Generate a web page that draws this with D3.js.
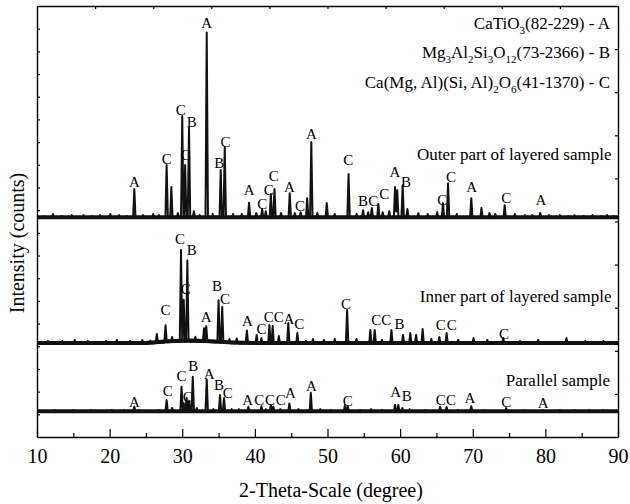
<!DOCTYPE html>
<html>
<head>
<meta charset="utf-8">
<script src="https://cdn.jsdelivr.net/npm/d3@7"></script>
<style>
  body { margin: 0; background: #fff; }
  text { font-family: "Liberation Serif", "Tinos", "Noto Serif", "DejaVu Serif", "FreeSerif", "Nimbus Roman", "Times New Roman", Times, serif; fill: #000; }
</style>
</head>
<body>
<div id="chart"></div>
<script>
// XRD patterns of three samples, stacked with offsets (counts)
const width = 630;
const height = 504;
const margin = {top: 6, left: 37, bottom: 67, right: 12};
const serif = '"Liberation Serif", "Tinos", "Noto Serif", "DejaVu Serif", "FreeSerif", "Nimbus Roman", "Times New Roman", Times, serif';

const xTicks = [10, 20, 30, 40, 50, 60, 70, 80, 90];
const xMinorTicks = [15, 25, 35, 45, 55, 65, 75, 85];
const topTicks = [18, 26, 34, 42, 50, 58, 66, 74, 82];
const leftTicks = d3.range(100, 1900, 100);
const rightTicks = d3.range(190, 1900, 190);

const sampleNames = ['Outer part of layered sample', 'Inner part of layered sample', 'Parallel sample'];
const sampleOffsets = [965, 410, 110];
const sampleNamePos = [[89.1, 1246], [89.1, 622], [88.9, 251]];

// peaks: [2theta, height above baseline]
const outerPeaks = [
  [11.0, 9], [12.2, 18], [13.4, 9], [14.8, 13], [16.4, 13], [17.6, 9], [18.7, 13], [20.1, 18], [21.3, 13],
  [22.4, 9], [23.4, 128], [24.6, 13], [26.0, 18], [26.8, 13], [27.85, 234], [28.5, 137], [29.4, 22],
  [30.0, 450], [30.4, 234], [30.93, 399], [31.6, 30], [32.4, 13], [33.37, 818], [34.2, 18], [35.3, 212],
  [35.85, 313], [37.0, 18], [38.2, 18], [39.2, 68], [40.2, 22], [41.0, 40], [41.5, 30], [42.2, 106],
  [42.7, 128], [43.6, 22], [44.8, 110], [45.5, 22], [46.3, 26], [47.2, 88], [47.77, 336], [48.6, 22],
  [49.9, 66], [51.0, 18], [52.9, 194], [54.0, 18], [54.9, 35], [55.6, 26], [56.1, 44], [57.0, 62],
  [57.6, 26], [58.5, 30], [59.3, 137], [59.6, 123], [60.35, 145], [61.0, 40], [62.5, 22], [63.8, 18],
  [65.1, 26], [65.9, 66], [66.6, 154], [67.8, 18], [69.8, 88], [71.2, 44], [72.3, 22], [73.1, 18],
  [74.4, 57], [75.8, 18], [77.2, 13], [78.2, 13], [79.3, 22], [80.5, 13], [82.0, 13], [83.2, 9],
  [84.0, 13], [85.3, 9], [86.5, 13], [87.6, 9], [88.5, 13], [89.4, 9]
];
const innerPeaks = [
  [11.5, 13], [12.6, 9], [13.5, 13], [15.2, 18], [16.1, 9], [17.0, 13], [18.3, 9], [19.5, 13], [21.0, 18],
  [22.8, 13], [24.5, 18], [25.6, 13], [26.5, 40], [27.7, 75], [28.6, 22], [29.83, 405], [30.2, 185],
  [30.7, 357], [31.8, 22], [33.0, 60], [33.3, 70], [35.0, 186], [35.5, 158], [36.5, 18], [37.5, 22],
  [38.9, 58], [40.25, 40], [40.9, 26], [42.0, 84], [42.45, 79], [43.3, 35], [44.6, 93], [45.85, 48],
  [47.0, 13], [48.0, 22], [49.5, 18], [51.0, 22], [52.7, 150], [54.0, 22], [55.9, 62], [56.5, 62],
  [57.5, 18], [58.8, 62], [60.4, 40], [61.4, 48], [62.2, 40], [63.1, 66], [64.3, 22], [65.4, 31],
  [66.4, 48], [68.0, 18], [70.1, 26], [72.0, 18], [74.2, 26], [76.5, 13], [79.0, 18], [81.0, 9],
  [82.9, 26], [85.5, 13], [88.0, 13]
];
const innerHump = [[10, 0], [25, 0], [28, 8], [31, 11], [34, 8], [37, 3], [40, 0], [90, 0]];
const parallelPeaks = [
  [12.5, 9], [15.0, 9], [17.5, 9], [20.3, 9], [22.0, 9], [23.4, 23], [24.1, 9], [26.8, 9], [27.85, 53],
  [28.6, 18], [29.9, 112], [30.2, 40], [30.6, 62], [30.95, 50], [31.45, 156], [32.0, 18], [33.37, 144],
  [34.3, 13], [35.2, 75], [35.75, 62], [36.8, 13], [37.8, 13], [39.1, 23], [40.9, 26], [41.5, 13],
  [42.2, 31], [42.55, 23], [43.5, 13], [44.75, 38], [46.0, 13], [47.7, 85], [49.0, 13], [50.5, 9],
  [52.4, 31], [52.8, 26], [54.5, 9], [56.0, 13], [57.5, 9], [59.3, 31], [59.75, 31], [60.3, 18],
  [61.3, 13], [63.5, 9], [65.5, 23], [66.4, 22], [68.0, 9], [69.8, 26], [71.5, 9], [74.6, 18],
  [77.0, 9], [79.6, 9], [82.0, 9], [84.0, 9], [86.0, 9], [88.0, 9]
];
const flatBase = [[10, 0], [90, 0]];

// phase labels: [letter, 2theta, intensity]
const outerLabels = [
  ['A', 23.4, 1125], ['C', 27.85, 1225], ['C', 29.8, 1441], ['C', 30.5, 1243], ['B', 31.3, 1390],
  ['A', 33.37, 1824], ['B', 35.1, 1208], ['C', 35.95, 1302], ['A', 39.2, 1092], ['C', 41.0, 1030],
  ['C', 41.9, 1090], ['C', 42.6, 1152], ['A', 44.75, 1101], ['C', 46.2, 1018], ['A', 47.8, 1339],
  ['C', 52.87, 1221], ['B', 54.9, 1040], ['C', 56.3, 1040], ['C', 57.8, 1074], ['A', 59.3, 1169],
  ['B', 60.8, 1125], ['C', 65.8, 1048], ['C', 67.0, 1147], ['A', 69.85, 1103], ['C', 74.6, 1055],
  ['A', 79.4, 1045]
];
const innerLabels = [
  ['C', 27.7, 560], ['C', 29.7, 876], ['B', 31.3, 827], ['C', 30.5, 655], ['A', 33.3, 530],
  ['B', 34.8, 666], ['C', 35.9, 611], ['A', 38.96, 513], ['C', 40.9, 479], ['C', 41.9, 528],
  ['C', 43.3, 528], ['A', 44.7, 523], ['C', 46.1, 498], ['C', 52.55, 589], ['C', 56.7, 516],
  ['C', 58.1, 516], ['B', 59.9, 501], ['C', 65.6, 494], ['C', 67.1, 494], ['C', 74.3, 457]
];
const parallelLabels = [
  ['A', 23.4, 156], ['C', 28.0, 204], ['C', 29.9, 269], ['C', 30.75, 178], ['B', 31.5, 313],
  ['A', 33.7, 281], ['B', 35.06, 229], ['C', 36.26, 195], ['A', 39.0, 166], ['C', 40.6, 166],
  ['C', 42.1, 166], ['C', 43.55, 166], ['A', 44.9, 195], ['A', 47.8, 225], ['C', 52.8, 160],
  ['A', 59.4, 200], ['B', 60.9, 181], ['C', 65.6, 163], ['C', 67.0, 163], ['A', 69.6, 175],
  ['C', 74.6, 156], ['A', 79.7, 149]
];

// legend lines: segments [text, isSubscript]
const legendLines = [
  [['CaTiO', 0], ['3', 1], ['(82-229) - A', 0]],
  [['Mg', 0], ['3', 1], ['Al', 0], ['2', 1], ['Si', 0], ['3', 1], ['O', 0], ['12', 1], ['(73-2366) - B', 0]],
  [['Ca(Mg, Al)(Si, Al)', 0], ['2', 1], ['O', 0], ['6', 1], ['(41-1370) - C', 0]]
];

const x = d3.scaleLinear().domain([10, 90]).range([margin.left, width - margin.right]);
const y = d3.scaleLinear().domain([0, 1900]).range([height - margin.bottom, margin.top]);

const svg = d3.select('#chart').append('svg').attr('width', width).attr('height', height);

function baseAt(base, v) {
  for (let i = 1; i < base.length; i++) {
    if (v <= base[i][0]) {
      const t = (v - base[i - 1][0]) / (base[i][0] - base[i - 1][0]);
      return base[i - 1][1] + t * (base[i][1] - base[i - 1][1]);
    }
  }
  return 0;
}

// build a pattern as a polyline: narrow triangular peaks on a baseline
function pattern(peaks, base, offset) {
  const w = 0.17;
  const knots = new Set(base.map(d => d[0]));
  peaks.forEach(p => { knots.add(p[0] - w); knots.add(p[0]); knots.add(p[0] + w); });
  const xs = Array.from(knots).filter(v => v >= 10 && v <= 90).sort((a, b) => a - b);
  return xs.map(v => [v, offset + baseAt(base, v) + d3.sum(peaks, p => Math.max(0, p[1] * (1 - Math.abs(v - p[0]) / w)))]);
}

const line = d3.line().x(d => x(d[0])).y(d => y(d[1]));

const series = [
  {peaks: outerPeaks, base: flatBase, labels: outerLabels},
  {peaks: innerPeaks, base: innerHump, labels: innerLabels},
  {peaks: parallelPeaks, base: flatBase, labels: parallelLabels}
];

series.forEach((s, i) => {
  // noisy baseline band
  svg.append('path')
    .datum(s.base.map(d => [d[0], d[1] + sampleOffsets[i] + 4]))
    .attr('d', line)
    .attr('fill', 'none')
    .attr('stroke', '#111')
    .attr('stroke-width', 4);

  svg.append('path')
    .datum(pattern(s.peaks, s.base, sampleOffsets[i]))
    .attr('d', line)
    .attr('fill', 'none')
    .attr('stroke', '#111')
    .attr('stroke-width', 2)
    .attr('stroke-linejoin', 'round');

  svg.append('g').selectAll('text').data(s.labels).enter().append('text')
    .attr('x', d => x(d[1]))
    .attr('y', d => y(d[2]))
    .attr('dy', '0.35em')
    .attr('text-anchor', 'middle')
    .style('font-size', '15px')
    .text(d => d[0]);

  svg.append('text')
    .attr('x', x(sampleNamePos[i][0]))
    .attr('y', y(sampleNamePos[i][1]))
    .attr('dy', '0.35em')
    .attr('text-anchor', 'end')
    .style('font-size', '17px')
    .text(sampleNames[i]);
});

// legend
const legend = svg.append('g');
legendLines.forEach((segs, i) => {
  const t = legend.append('text')
    .attr('x', 610)
    .attr('y', 28.5 + i * 29.5)
    .attr('text-anchor', 'end')
    .style('font-size', '17px');
  let sub = 0;
  segs.forEach(sg => {
    t.append('tspan')
      .attr('dy', (sg[1] - sub) * 5)
      .style('font-size', sg[1] ? '11px' : '17px')
      .text(sg[0]);
    sub = sg[1];
  });
});

// axes (frame with inward ticks)
const styleAxis = g => g
  .call(g => g.select('.domain').attr('stroke', '#000').attr('stroke-width', 1.4))
  .call(g => g.selectAll('.tick line').attr('stroke', '#000').attr('stroke-width', 1.2));

svg.append('g')
  .attr('transform', `translate(0, ${height - margin.bottom})`)
  .call(d3.axisBottom(x).tickValues(xTicks).tickSize(-8).tickSizeOuter(0).tickPadding(12))
  .call(styleAxis)
  .call(g => g.selectAll('text').style('font-size', '20px').style('font-family', serif));

svg.append('g')
  .attr('transform', `translate(0, ${height - margin.bottom})`)
  .call(d3.axisBottom(x).tickValues(xMinorTicks).tickSize(-4).tickFormat(''))
  .call(g => g.select('.domain').remove())
  .call(styleAxis);

svg.append('g')
  .attr('transform', `translate(0, ${margin.top})`)
  .call(d3.axisTop(x).tickValues(topTicks).tickSize(-3).tickSizeOuter(0).tickFormat(''))
  .call(styleAxis);

svg.append('g')
  .attr('transform', `translate(${margin.left}, 0)`)
  .call(d3.axisLeft(y).tickValues(leftTicks).tickSize(-3).tickSizeOuter(0).tickFormat(''))
  .call(styleAxis);

svg.append('g')
  .attr('transform', `translate(${width - margin.right}, 0)`)
  .call(d3.axisRight(y).tickValues(rightTicks).tickSize(-3).tickSizeOuter(0).tickFormat(''))
  .call(styleAxis);

// axis titles
svg.append('text')
  .attr('x', 331)
  .attr('y', 497)
  .attr('text-anchor', 'middle')
  .style('font-size', '20px')
  .text('2-Theta-Scale (degree)');

svg.append('text')
  .attr('transform', 'translate(24, 243) rotate(-90)')
  .attr('text-anchor', 'middle')
  .style('font-size', '20px')
  .text('Intensity (counts)');
</script>
</body>
</html>
